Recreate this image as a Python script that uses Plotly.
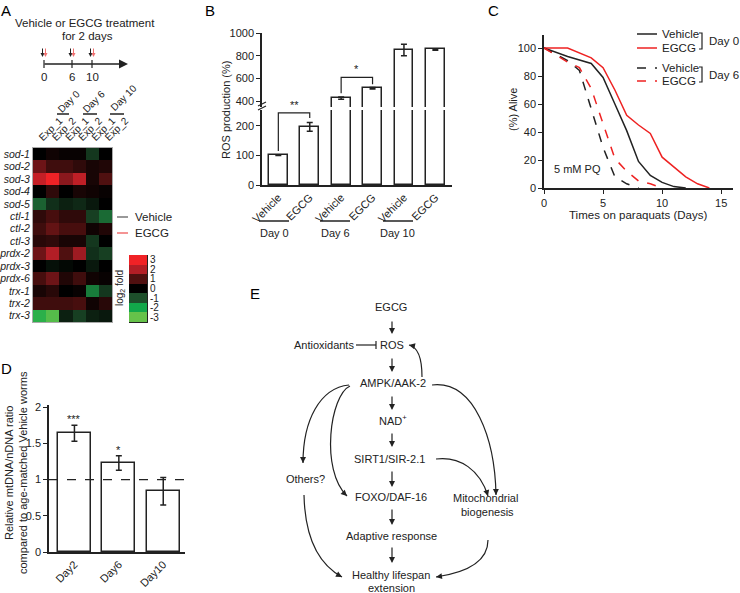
import math
import plotly.graph_objects as go

W, H = 740, 593
FONT = "Arial, Liberation Sans, sans-serif"
INK = "#222222"
RED = "#ee2222"

# --- A: heatmap of antioxidant genes (log2 fold) ---
genes = ["sod-1", "sod-2", "sod-3", "sod-4", "sod-5", "ctl-1", "ctl-2", "ctl-3",
         "prdx-2", "prdx-3", "prdx-6", "trx-1", "trx-2", "trx-3"]
exp_labels = ["Exp_1", "Exp_2", "Exp_1", "Exp_2", "Exp_1", "Exp_2"]
log2_fold = [
    [0.0, 0.2, 0.1, 0.1, -0.7, 0.0],
    [1.3, 0.8, 0.8, 0.6, 0.3, 0.4],
    [2.3, 3.0, 1.6, 2.2, 0.3, 1.0],
    [0.0, 0.6, 0.0, 0.3, 0.2, 0.1],
    [-1.2, -0.6, -0.4, -0.5, -0.3, 0.0],
    [0.6, 0.9, 0.6, 0.6, -0.8, -1.3],
    [0.8, 1.2, 0.9, 0.9, 0.2, 0.4],
    [0.5, 0.6, 0.3, 0.3, -0.7, 0.0],
    [1.3, 2.0, 1.0, 1.8, -0.6, -0.8],
    [0.0, -0.2, -0.1, 0.0, -0.3, 0.0],
    [0.9, 1.3, 0.4, 0.8, 0.2, 0.1],
    [0.3, 0.5, 0.0, 0.1, -1.5, -0.7],
    [0.8, 0.8, 0.8, 0.9, 0.2, 0.5],
    [-2.3, -2.8, -0.4, -0.8, -0.4, -0.3],
]
scale_steps = [-3, -2, -1, 0, 1, 2, 3]
scale_labels = ["-3", "-2", "-1", "0", "1", "2", "3"]
scale_colors = ["#66c24a", "#12a84a", "#1d4f2b", "#000000", "#4f1010", "#b21e26", "#f02226"]

# --- B: ROS production ---
ros_ticks = ["Vehicle", "EGCG", "Vehicle", "EGCG", "Vehicle", "EGCG"]
ros_values = [100, 197, 426, 513, 850, 855]
ros_err = [0, 15, 10, 6, 50, 6]

# --- C: survival on paraquat ---
veh0_days = [0, 2, 4, 5, 6, 7, 8, 9, 10, 11, 12]
veh0_alive = [100, 94, 89, 79, 60, 41, 19, 9, 4, 1, 0]
egcg0_days = [0, 2, 4, 5, 6, 7, 8, 9, 10, 11, 12, 13, 14]
egcg0_alive = [100, 100, 93, 86, 70, 52, 45, 39, 22, 15, 8, 3, 0]
veh6_days = [0, 2, 3, 4, 5, 6, 7, 8]
veh6_alive = [100, 91, 84, 57, 29, 8, 3, 0]
egcg6_days = [0, 2, 3, 4, 5, 6, 7, 8, 9, 10]
egcg6_alive = [100, 90, 86, 71, 46, 21, 12, 5, 3, 0]

# --- D: mtDNA/nDNA ratio ---
mt_labels = ["Day2", "Day6", "Day10"]
mt_ratio = [1.64, 1.23, 0.84]
mt_err = [0.11, 0.10, 0.19]
mt_sig = ["***", "*", ""]


def fx(p):
    return p / W


def fy(p):
    return 1 - p / H


def text(fig, x, y, s, size=11, xanchor="center", angle=0, color=INK):
    fig.add_annotation(x=fx(x), y=fy(y), xref="paper", yref="paper", text=s,
                       showarrow=False, xanchor=xanchor, yanchor="middle",
                       textangle=angle, font=dict(size=size, color=color))


def line(fig, x0, y0, x1, y1, color=INK, width=1.2, dash=None):
    fig.add_shape(type="line", x0=fx(x0), y0=fy(y0), x1=fx(x1), y1=fy(y1),
                  xref="paper", yref="paper", line=dict(color=color, width=width, dash=dash))


def arrow(fig, x0, y0, x1, y1, color=INK, width=1.2, size=1.0):
    fig.add_annotation(x=fx(x1), y=fy(y1), xref="paper", yref="paper",
                       ax=x0 - x1, ay=y0 - y1, axref="pixel", ayref="pixel",
                       text="", showarrow=True, arrowhead=2, arrowsize=size,
                       arrowwidth=width, arrowcolor=color)


def curve_arrow(fig, p0, c1, c2, p1):
    pts = [p0, c1, c2, p1]
    s = [f"{fx(p[0]):.5f},{fy(p[1]):.5f}" for p in pts]
    fig.add_shape(type="path", path=f"M {s[0]} C {s[1]} {s[2]} {s[3]}",
                  xref="paper", yref="paper", line=dict(color=INK, width=1.2))
    dx, dy = p1[0] - c2[0], p1[1] - c2[1]
    n = math.hypot(dx, dy)
    arrow(fig, p1[0] - 7 * dx / n, p1[1] - 7 * dy / n, p1[0], p1[1])


fig = go.Figure()
colorscale = [[(v + 3) / 6, c] for v, c in zip(scale_steps, scale_colors)]

# A heatmap + colour key
fig.add_trace(go.Heatmap(
    z=log2_fold, x=list(range(6)), y=genes, colorscale=colorscale,
    zmin=-3, zmax=3, showscale=False, xaxis="x", yaxis="y",
))
fig.add_trace(go.Heatmap(
    z=[[v] for v in scale_steps], x=[0], y=scale_steps, colorscale=colorscale,
    zmin=-3, zmax=3, showscale=False, xaxis="x2", yaxis="y2",
))

# B bars on a broken axis (lower and upper segments)
for ax in ("y3", "y4"):
    fig.add_trace(go.Bar(
        x=list(range(6)), y=ros_values, width=0.6,
        marker=dict(color="white", line=dict(color=INK, width=1.5)),
        error_y=dict(type="data", array=ros_err, color=INK, thickness=1.5, width=3),
        xaxis="x3", yaxis=ax,
    ))

# C survival curves
for days, alive, color, dash in [
    (veh0_days, veh0_alive, INK, "solid"),
    (egcg0_days, egcg0_alive, RED, "solid"),
    (veh6_days, veh6_alive, INK, "dash"),
    (egcg6_days, egcg6_alive, RED, "dash"),
]:
    fig.add_trace(go.Scatter(
        x=days, y=alive, mode="lines", line=dict(color=color, width=1.5, dash=dash),
        xaxis="x5", yaxis="y5",
    ))

# D bars
fig.add_trace(go.Bar(
    x=list(range(3)), y=mt_ratio, width=0.74,
    marker=dict(color="white", line=dict(color=INK, width=1.5)),
    error_y=dict(type="data", array=mt_err, color=INK, thickness=1.5, width=3),
    xaxis="x6", yaxis="y6",
))

tick_font = dict(size=11, color=INK)
base_axis = dict(showgrid=False, zeroline=False, linecolor=INK, tickcolor=INK,
                 tickfont=tick_font, automargin=False)

fig.update_layout(
    width=W, height=H,
    margin=dict(l=0, r=0, t=0, b=0),
    paper_bgcolor="white", plot_bgcolor="white",
    showlegend=False, bargap=0,
    font=dict(family=FONT, color=INK, size=11),
    xaxis=dict(base_axis, domain=[fx(33), fx(112)], anchor="y", side="top",
               tickvals=list(range(6)), ticktext=exp_labels, tickangle=-45,
               range=[-0.5, 5.5], showline=True, mirror=True, linecolor="#aaaaaa",
               linewidth=1, ticks="", tickfont=dict(size=10, color=INK)),
    yaxis=dict(base_axis, domain=[fy(322), fy(148)], anchor="x", autorange="reversed",
               tickvals=genes, ticktext=[f"<i>{g}</i>" for g in genes],
               showline=True, mirror=True, linecolor="#aaaaaa", linewidth=1, ticks="",
               tickfont=dict(size=10.5, color=INK)),
    xaxis2=dict(base_axis, domain=[fx(129), fx(147)], anchor="y2", range=[-0.5, 0.5],
                showticklabels=False, ticks=""),
    yaxis2=dict(base_axis, domain=[fy(322), fy(255)], anchor="x2", side="right",
                tickvals=scale_steps, ticktext=scale_labels, range=[-3.5, 3.5], ticks="",
                tickfont=dict(size=10, color=INK)),
    xaxis3=dict(base_axis, domain=[fx(262), fx(452)], anchor="y3", range=[-0.52, 5.53],
                tickvals=list(range(6)), ticktext=ros_ticks, tickangle=-45,
                showline=True, linewidth=1.5, ticks=""),
    yaxis3=dict(base_axis, domain=[fy(185), fy(110)], anchor="x3", range=[0, 254],
                tickvals=[0, 100, 200], showline=True, linewidth=1.5,
                ticks="outside", ticklen=4),
    yaxis4=dict(base_axis, domain=[fy(107), fy(33)], anchor="x3", range=[348, 1000],
                tickvals=[400, 600, 800, 1000], showline=True, linewidth=1.5,
                ticks="outside", ticklen=4),
    xaxis5=dict(base_axis, domain=[fx(544), fx(733)], anchor="y5", range=[0, 16],
                tickvals=[0, 5, 10, 15], showline=True, linewidth=1.5,
                ticks="outside", ticklen=4),
    yaxis5=dict(base_axis, domain=[fy(188), fy(35)], anchor="x5", range=[0, 109.3],
                tickvals=[0, 20, 40, 60, 80, 100], showline=True, linewidth=1.5,
                ticks="outside", ticklen=4),
    xaxis6=dict(base_axis, domain=[fx(49), fx(185)], anchor="y6", range=[-0.573, 2.49],
                tickvals=list(range(3)), ticktext=mt_labels, tickangle=-45,
                showline=True, linewidth=1.5, ticks=""),
    yaxis6=dict(base_axis, domain=[fy(552), fy(405)], anchor="x6", range=[0, 2.03],
                tickvals=[0, 0.5, 1, 1.5, 2], ticktext=["0", "0.5", "1", "1.5", "2"],
                showline=True, linewidth=1.5, ticks="outside", ticklen=4),
)

# panel letters
for letter, x, y in [("A", 6, 10), ("B", 210, 10), ("C", 493, 10), ("D", 6, 368), ("E", 255, 293)]:
    text(fig, x, y, letter, size=15, color="black")

# A: treatment timeline
text(fig, 85, 23, "Vehicle or EGCG treatment", size=11.5)
text(fig, 87, 36, "for 2 days", size=11.5)
arrow(fig, 43, 64, 128, 64, width=1.5, size=1.2)
for x, lab in [(44, "0"), (72, "6"), (92, "10")]:
    line(fig, x, 60, x, 68, width=1.2)
    text(fig, x, 77, lab, size=11.5)
    arrow(fig, x - 1.5, 47, x - 1.5, 57, width=1, size=0.8)
    arrow(fig, x + 1.5, 47, x + 1.5, 57, color="#f07070", width=1, size=0.8)
for lab, x0, x1, cx, cy in [("Day 0", 57, 69, 69, 102), ("Day 6", 83, 97, 94, 102),
                            ("Day 10", 110, 124, 124, 98)]:
    line(fig, x0, 114, x1, 114, width=1.5)
    text(fig, cx, cy, lab, size=10, angle=-45)
line(fig, 117, 217, 128, 217, color="#777777", width=1.5)
text(fig, 133, 217, "Vehicle", size=11.5, xanchor="left")
line(fig, 117, 233, 128, 233, color="#f07070", width=1.5)
text(fig, 133, 233, "EGCG", size=11.5, xanchor="left")
text(fig, 120, 288, "log<sub>2</sub> fold", size=10, angle=-90)

# B: titles, break marks, group labels, significance
text(fig, 226, 110, "ROS production (%)", size=11, angle=-90)
for y in (104, 108):
    line(fig, 258, y + 2, 266, y - 2, width=1.2)
for lab, x0, x1 in [("Day 0", 259, 289), ("Day 6", 320, 350), ("Day 10", 383, 413)]:
    line(fig, x0, 221, x1, 221, width=1.5)
    text(fig, (x0 + x1) / 2, 233, lab, size=11)
fig.add_shape(type="path", path="M 0,115 L 0,244 L 1,244 L 1,227", xref="x3", yref="y3",
              line=dict(color=INK, width=1.2))
fig.add_annotation(x=0.5, y=244, xref="x3", yref="y3", text="**", showarrow=False,
                   yanchor="bottom", font=dict(size=11, color=INK))
fig.add_shape(type="path", path="M 2,470 L 2,609 L 3,609 L 3,548", xref="x3", yref="y4",
              line=dict(color=INK, width=1.2))
fig.add_annotation(x=2.5, y=609, xref="x3", yref="y4", text="*", showarrow=False,
                   yanchor="bottom", font=dict(size=11, color=INK))

# C: titles and legend
text(fig, 513, 110, "(%) Alive", size=11, angle=-90)
text(fig, 638, 215, "Times on paraquats (Days)", size=11.5)
text(fig, 577, 169, "5 mM PQ", size=11)
for y, color, dash, lab in [(34, INK, "solid", "Vehicle"), (48, RED, "solid", "EGCG"),
                            (68, INK, "dash", "Vehicle"), (81, RED, "dash", "EGCG")]:
    line(fig, 637, y, 657, y, color=color, width=1.5, dash=dash)
    text(fig, 660, y, lab, size=11.5, xanchor="left")
for y0, y1, lab in [(33, 49, "Day 0"), (67, 82, "Day 6")]:
    fig.add_shape(type="path", xref="paper", yref="paper",
                  path=f"M {fx(699)},{fy(y0)} L {fx(702)},{fy(y0)} L {fx(702)},{fy(y1)} L {fx(699)},{fy(y1)}",
                  line=dict(color=INK, width=1.2))
    text(fig, 707, (y0 + y1) / 2, lab, size=11.5, xanchor="left")

# D: title, reference line, stars
text(fig, 16, 473, "Relative mtDNA/nDNA ratio<br>compared to age-matched Vehicle worms",
     size=11, angle=-90)
fig.add_shape(type="line", x0=fx(49), x1=fx(185), y0=1, y1=1, xref="paper", yref="y6",
              line=dict(color=INK, width=1.2, dash="dash"))
for i, (v, e, s) in enumerate(zip(mt_ratio, mt_err, mt_sig)):
    if s:
        fig.add_annotation(x=i, y=v + e, xref="x6", yref="y6", text=s, showarrow=False,
                           yanchor="bottom", yshift=-2, font=dict(size=11, color=INK))

# E: pathway diagram
nodes = [
    ("EGCG", 391, 307), ("ROS", 392, 345), ("AMPK/AAK-2", 393, 383), ("NAD<sup>+</sup>", 393, 420),
    ("SIRT1/SIR-2.1", 390, 459), ("FOXO/DAF-16", 391, 497), ("Adaptive response", 391, 536),
    ("Healthy lifespan", 391, 575), ("extension", 391, 588), ("Others?", 305, 479),
    ("Antioxidants", 324, 345), ("Mitochondrial", 485, 498), ("biogenesis", 487, 512),
]
for lab, x, y in nodes:
    text(fig, x, y, lab, size=11)
for y0, y1 in [(320, 334), (357, 372), (395, 410), (432, 447), (470, 487), (508, 525), (546, 563)]:
    arrow(fig, 392, y0, 392, y1)
line(fig, 356, 345, 376, 345)
line(fig, 376, 341, 376, 349)
curve_arrow(fig, (422, 377), (422, 358), (418, 347), (409, 345))
curve_arrow(fig, (349, 385), (320, 388), (303, 420), (303, 463))
curve_arrow(fig, (350, 386), (330, 395), (320, 470), (347, 496))
curve_arrow(fig, (432, 385), (475, 380), (495, 440), (496, 495))
curve_arrow(fig, (436, 459), (460, 456), (480, 470), (488, 496))
curve_arrow(fig, (304, 495), (305, 540), (320, 565), (342, 577))
curve_arrow(fig, (488, 540), (488, 560), (470, 572), (436, 577))

fig.write_html("out.html", config={"displayModeBar": False},
               post_script="document.body.style.margin='0';")
